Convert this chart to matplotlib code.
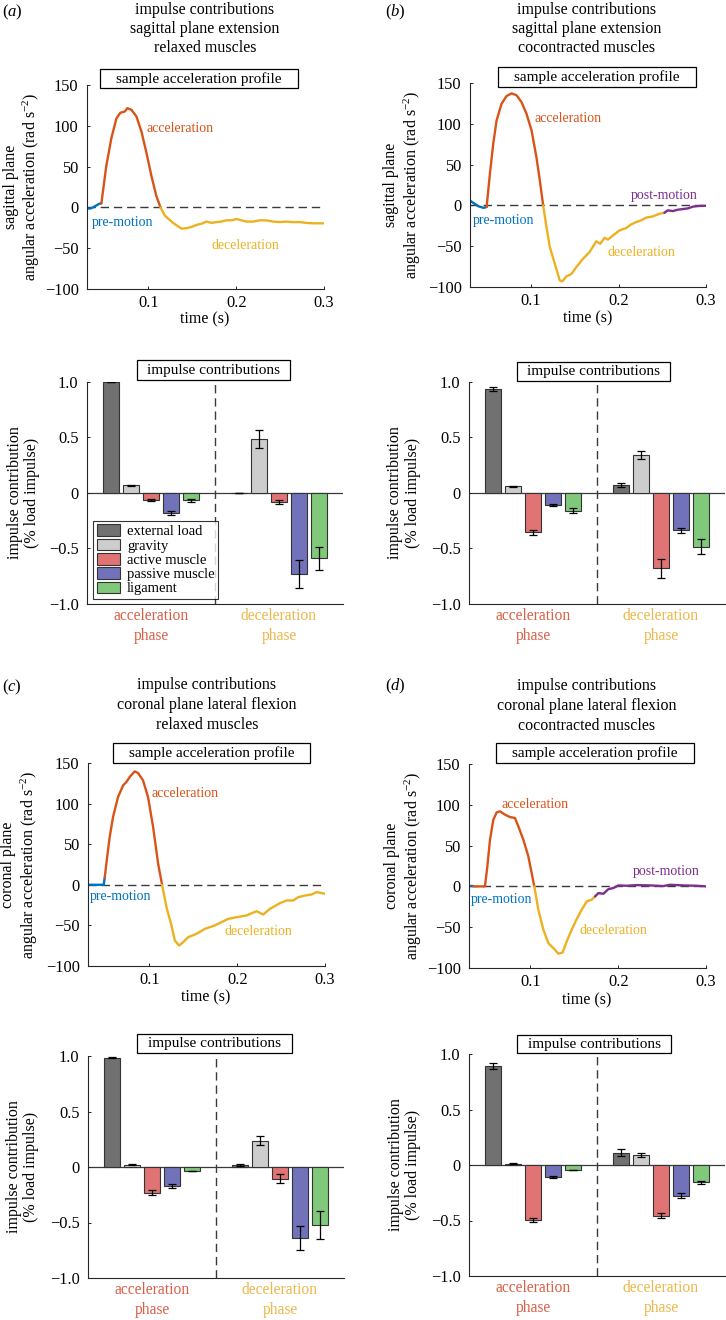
import matplotlib
matplotlib.use('Agg')
import matplotlib.pyplot as plt
from matplotlib.patches import Rectangle, Patch
import numpy as np

plt.rcParams['font.family'] = ['Liberation Serif', 'DejaVu Serif']
plt.rcParams['mathtext.fontset'] = 'custom'
plt.rcParams['mathtext.rm'] = 'Liberation Serif'
plt.rcParams['mathtext.it'] = 'Liberation Serif:italic'
plt.rcParams['axes.unicode_minus'] = True

# ---------------- data ----------------
components = ['external load', 'gravity', 'active muscle', 'passive muscle', 'ligament']
phase_labels = ['acceleration\nphase', 'deceleration\nphase']
x_ticks = [0.1, 0.2, 0.3]
x_ticklabels = ['0.1', '0.2', '0.3']
acc_yticks = [-100, -50, 0, 50, 100, 150]
acc_yticklabels = ['\u2212100', '\u221250', '0', '50', '100', '150']
imp_yticks = [-1.0, -0.5, 0.0, 0.5, 1.0]
imp_yticklabels = ['\u22121.0', '\u22120.5', '0', '0.5', '1.0']

# panel (a): sagittal, relaxed
a_pre_t = [0.030, 0.033, 0.036, 0.040, 0.044, 0.0464]
a_pre_v = [-1.0, -1.5, -0.5, 2.0, 4.5, 5.0]
a_acc_t = [0.0464, 0.052, 0.0578, 0.0635, 0.068, 0.073, 0.076, 0.0806, 0.0863, 0.092, 0.0977, 0.1034, 0.109, 0.1137]
a_acc_v = [5, 51, 85, 109, 116, 117.5, 121.6, 119.6, 111.5, 93, 67, 38.5, 14, 0]
a_dec_t = [0.1137, 0.1186, 0.1281, 0.1376, 0.1433, 0.149, 0.1547, 0.1604, 0.166, 0.1719, 0.1775, 0.183, 0.189,
           0.1947, 0.2004, 0.206, 0.2118, 0.2194, 0.227, 0.2346, 0.2422, 0.2498, 0.2574, 0.265, 0.2727, 0.280,
           0.2878, 0.299]
a_dec_v = [0, -10, -19, -26, -25.5, -24, -21.5, -20, -17.4, -19, -18, -17.4, -15.8, -15.8, -14.2, -15.8, -17.4,
           -17.4, -15.8, -16, -17.4, -18, -17.4, -18, -18, -19, -19.5, -19.5]

# panel (b): sagittal, cocontracted
b_pre_t = [0.030, 0.0338, 0.0395, 0.0452, 0.049]
b_pre_v = [6, 3, -1, -3, -2]
b_acc_t = [0.049, 0.0528, 0.0566, 0.0604, 0.0661, 0.0718, 0.0775, 0.0832, 0.0889, 0.0946, 0.1004, 0.106, 0.1099, 0.1137]
b_acc_v = [-2, 39, 75.6, 104, 124.6, 134, 137.3, 135, 126.7, 112.4, 92, 59, 30.6, 0]
b_dec_t = [0.1137, 0.1175, 0.1213, 0.127, 0.1327, 0.1357, 0.1403, 0.146, 0.1517, 0.1593, 0.1669, 0.1745, 0.179,
           0.184, 0.1878, 0.1935, 0.2011, 0.2087, 0.2144, 0.2201, 0.2258, 0.2315, 0.2392, 0.2468, 0.2525]
b_dec_v = [0, -26.6, -51, -71.5, -92, -93, -87, -84, -75.6, -65.4, -57, -44, -47, -39.6, -42, -36.8, -30.6, -27.8,
           -23.3, -20.4, -18.4, -15, -13.5, -10.2, -9]
b_post_t = [0.2525, 0.2563, 0.262, 0.2677, 0.2734, 0.2791, 0.2848, 0.2905, 0.300]
b_post_v = [-9, -6, -7, -5.3, -4.5, -3.7, -1.6, -0.8, -0.4]

# panel (c): coronal, relaxed
c_pre_t = [0.030, 0.0479, 0.049]
c_pre_v = [0, 0, 8.6]
c_acc_t = [0.049, 0.0518, 0.0547, 0.0585, 0.0642, 0.070, 0.0737, 0.0775, 0.0832, 0.087, 0.0927, 0.0984, 0.1042,
           0.1099, 0.1144]
c_acc_v = [8.6, 34, 58.8, 83.4, 108, 122.5, 126.6, 132.8, 139.7, 137.7, 128.6, 108, 71, 25.9, 0]
c_dec_t = [0.1144, 0.1194, 0.1251, 0.1289, 0.1338, 0.1384, 0.1441, 0.1536, 0.1631, 0.1745, 0.1821, 0.1897, 0.1992,
           0.2106, 0.222, 0.2296, 0.2373, 0.2487, 0.2563, 0.2639, 0.2696, 0.2772, 0.2848, 0.2905, 0.300]
c_dec_v = [0, -27.5, -50, -68.6, -74.8, -70.7, -64.5, -60.4, -54.3, -50, -46, -42, -39.9, -37.8, -32.5, -36.6,
           -29.6, -22.6, -19.3, -19.3, -15.2, -13.2, -11.9, -9, -11]

# panel (d): coronal, cocontracted
d_pre_t = [0.030, 0.0349]
d_pre_v = [0, 0]
d_acc_t = [0.0349, 0.0482, 0.0509, 0.0539, 0.0577, 0.0615, 0.0653, 0.071, 0.0767, 0.0824, 0.0862, 0.0919, 0.0976,
           0.1014, 0.1044]
d_acc_v = [0, 0, 24.5, 57, 81.7, 90.7, 92, 87.9, 85, 83.8, 73.6, 57.2, 36.8, 16.3, 0]
d_dec_t = [0.1044, 0.109, 0.1147, 0.1204, 0.1261, 0.1318, 0.1367, 0.1413, 0.147, 0.1527, 0.1584, 0.1641, 0.1698,
           0.1736]
d_dec_v = [0, -28.6, -53, -69.5, -75.6, -82.5, -81, -67.4, -53, -40, -28.6, -18.4, -16.3, -12.3]
d_post_t = [0.1736, 0.1774, 0.1831, 0.1888, 0.1945, 0.2002, 0.2097, 0.221, 0.2362, 0.2514, 0.259, 0.2742, 0.2894, 0.300]
d_post_v = [-12.3, -8.2, -9, -3.3, -2, 1.2, 0.8, 1.6, 1.2, 0.4, 2, 1.2, 0.8, 0]

# impulse contributions (mean, error) per phase
a_acc_mean = [1.000, 0.069, -0.060, -0.180, -0.066]
a_acc_err = [0.003, 0.005, 0.008, 0.022, 0.016]
a_dec_mean = [0.003, 0.486, -0.081, -0.732, -0.590]
a_dec_err = [0.000, 0.078, 0.015, 0.128, 0.100]
b_acc_mean = [0.936, 0.060, -0.354, -0.111, -0.159]
b_acc_err = [0.015, 0.003, 0.022, 0.009, 0.025]
b_dec_mean = [0.069, 0.342, -0.678, -0.336, -0.483]
b_dec_err = [0.018, 0.036, 0.084, 0.025, 0.069]
c_acc_mean = [0.986, 0.021, -0.232, -0.171, -0.036]
c_acc_err = [0.005, 0.002, 0.024, 0.021, 0.003]
c_dec_mean = [0.021, 0.238, -0.105, -0.640, -0.520]
c_dec_err = [0.009, 0.042, 0.038, 0.108, 0.126]
d_acc_mean = [0.892, 0.012, -0.495, -0.108, -0.045]
d_acc_err = [0.030, 0.002, 0.022, 0.006, 0.003]
d_dec_mean = [0.111, 0.093, -0.456, -0.276, -0.156]
d_dec_err = [0.030, 0.018, 0.022, 0.020, 0.015]

# ---------------- style ----------------
C_PRE, C_ACC, C_DEC, C_POST = '#0072BD', '#D95319', '#EDB120', '#7E2F8E'
comp_colors = ['#717171', '#CDCDCD', '#E07474', '#7272BA', '#80C97A']
PHASE_COLORS = ['#DA5F48', '#EDB74A']
AX_COLOR = '#262626'

W, H = 726, 1320
fig = plt.figure(figsize=(W / 100, H / 100), dpi=100)


def px_axes(l, t, r, b):
    return fig.add_axes([l / W, 1 - b / H, (r - l) / W, (b - t) / H])


def ftext(x, y, s, **kw):
    return fig.text(x / W, 1 - y / H, s, **kw)


def fbox(l, t, r, b, s, fs=11.0):
    fig.patches.append(Rectangle((l / W, 1 - b / H), (r - l) / W, (b - t) / H, transform=fig.transFigure,
                                 fc='white', ec='black', lw=0.9, zorder=5))
    ftext((l + r) / 2, (t + b) / 2 + 0.5, s, ha='center', va='center', fontsize=fs, zorder=6)


def style(ax):
    for s in ['top', 'right']:
        ax.spines[s].set_visible(False)
    for s in ['left', 'bottom']:
        ax.spines[s].set_color(AX_COLOR)
        ax.spines[s].set_linewidth(0.8)
    ax.tick_params(direction='in', length=2.5, width=0.7, colors=AX_COLOR, labelcolor='black', labelsize=11.8)
    ax.patch.set_alpha(0)


def accel_panel(rect, segs, notes):
    ax = px_axes(*rect)
    style(ax)
    ax.set_xlim(0.03, 0.3)
    ax.set_ylim(-100, 150)
    ax.set_xticks(x_ticks)
    ax.set_xticklabels(x_ticklabels)
    ax.set_yticks(acc_yticks)
    ax.set_yticklabels(acc_yticklabels)
    ax.tick_params(axis='y', pad=6)
    ax.tick_params(axis='x', pad=4)
    ax.plot([0.03, 0.3], [0, 0], color='#3a3a3a', lw=1.0, ls=(0, (6, 3.5)), zorder=1)
    for t, v, c in segs:
        ax.plot(t, v, color=c, lw=1.7, solid_capstyle='round', solid_joinstyle='round', zorder=2)
    for (x, y, s, c) in notes:
        ax.text(x, y, s, color=c, fontsize=10, ha='left', va='center')
    return ax


def impulse_panel(rect, acc, accerr, dec, decerr, legend=False):
    ax = px_axes(*rect)
    style(ax)
    ax.set_xlim(0.5, 2.5)
    ax.set_ylim(-1.0, 1.0)
    ax.set_yticks(imp_yticks)
    ax.set_yticklabels(imp_yticklabels)
    ax.tick_params(axis='y', pad=6)
    ax.set_xticks([])
    ax.axhline(0, color='#3a3a3a', lw=0.9, zorder=1)
    ax.axvline(1.5, color='#3a3a3a', lw=1.0, ls=(0, (6, 3.5)), zorder=1)
    offs = np.arange(-2, 3) * 0.156
    for g, (m, e) in enumerate([(acc, accerr), (dec, decerr)]):
        x = g + 1 + offs
        ax.bar(x, m, width=0.125, color=comp_colors, edgecolor='#333333', lw=0.8, zorder=2)
        ax.errorbar(x, m, yerr=e, fmt='none', ecolor='black', elinewidth=0.9, capsize=2.6, capthick=0.9, zorder=3)
        ax.annotate(phase_labels[g], xy=(g + 1, 0), xycoords=('data', 'axes fraction'), xytext=(0, -3),
                    textcoords='offset points', ha='center', va='top', fontsize=11.2, color=PHASE_COLORS[g],
                    linespacing=1.3, annotation_clip=False)
    if legend:
        handles = [Patch(facecolor=c, edgecolor='#333333', lw=0.8) for c in comp_colors]
        leg = ax.legend(handles, components, loc='lower left', bbox_to_anchor=(0.023, 0.022), borderaxespad=0,
                        fontsize=10.5, frameon=True, fancybox=False, handlelength=1.6, handleheight=0.85,
                        handletextpad=0.5, labelspacing=0.03, borderpad=0.25)
        leg.get_frame().set_edgecolor('black')
        leg.get_frame().set_linewidth(0.8)
        leg.set_zorder(4)
    return ax


# ---- panel (a)
for i, s in enumerate(['impulse contributions', 'sagittal plane extension', 'relaxed muscles']):
    ftext(205, 9.5 + 19.5 * i, s, ha='center', va='center', fontsize=11.5)
ftext(2, 12, '($\\mathit{a}$)', ha='left', va='center', fontsize=12)
accel_panel((87, 85, 324, 289),
            [(a_pre_t, a_pre_v, C_PRE), (a_acc_t, a_acc_v, C_ACC), (a_dec_t, a_dec_v, C_DEC)],
            [(0.0977, 97, 'acceleration', C_ACC), (0.035, -18, 'pre-motion', C_PRE),
             (0.172, -47, 'deceleration', C_DEC)])
fbox(100, 69, 298, 88, 'sample acceleration profile')
ftext(22.5, 187, 'sagittal plane\nangular acceleration (rad s$^{-2}$)', rotation=90, ha='center', va='center',
      fontsize=11.5, linespacing=1.15)
ftext(205, 319, 'time (s)', ha='center', va='center', fontsize=11.5)
impulse_panel((87, 382, 343, 604), a_acc_mean, a_acc_err, a_dec_mean, a_dec_err, legend=True)
fbox(137, 360, 290, 380, 'impulse contributions')
ftext(23.5, 493, 'impulse contribution\n(% load impulse)', rotation=90, ha='center', va='center',
      fontsize=11.5, linespacing=1.15)

# ---- panel (b)
for i, s in enumerate(['impulse contributions', 'sagittal plane extension', 'cocontracted muscles']):
    ftext(587, 9.5 + 19.5 * i, s, ha='center', va='center', fontsize=11.5)
ftext(385, 12, '($\\mathit{b}$)', ha='left', va='center', fontsize=12)
accel_panel((470, 83, 706, 287),
            [(b_pre_t, b_pre_v, C_PRE), (b_acc_t, b_acc_v, C_ACC), (b_dec_t, b_dec_v, C_DEC),
             (b_post_t, b_post_v, C_POST)],
            [(0.1034, 106, 'acceleration', C_ACC), (0.033, -18, 'pre-motion', C_PRE),
             (0.1878, -58, 'deceleration', C_DEC), (0.2137, 12, 'post-motion', C_POST)])
fbox(498, 67, 696, 87, 'sample acceleration profile')
ftext(403, 185, 'sagittal plane\nangular acceleration (rad s$^{-2}$)', rotation=90, ha='center', va='center',
      fontsize=11.5, linespacing=1.15)
ftext(588, 318, 'time (s)', ha='center', va='center', fontsize=11.5)
impulse_panel((469, 382, 725, 604), b_acc_mean, b_acc_err, b_dec_mean, b_dec_err)
fbox(517, 362, 670, 381, 'impulse contributions')
ftext(404, 493, 'impulse contribution\n(% load impulse)', rotation=90, ha='center', va='center',
      fontsize=11.5, linespacing=1.15)

# ---- panel (c)
for i, s in enumerate(['impulse contributions', 'coronal plane lateral flexion', 'relaxed muscles']):
    ftext(207, 685 + 20 * i, s, ha='center', va='center', fontsize=11.5)
ftext(2, 687, '($\\mathit{c}$)', ha='left', va='center', fontsize=12)
accel_panel((88, 763, 325, 966),
            [(c_pre_t, c_pre_v, C_PRE), (c_acc_t, c_acc_v, C_ACC), (c_dec_t, c_dec_v, C_DEC)],
            [(0.1027, 113, 'acceleration', C_ACC), (0.032, -15, 'pre-motion', C_PRE),
             (0.185, -57, 'deceleration', C_DEC)])
fbox(113, 743, 310, 763, 'sample acceleration profile')
ftext(20, 865, 'coronal plane\nangular acceleration (rad s$^{-2}$)', rotation=90, ha='center', va='center',
      fontsize=11.5, linespacing=1.15)
ftext(206, 997, 'time (s)', ha='center', va='center', fontsize=11.5)
impulse_panel((88, 1056, 344, 1278), c_acc_mean, c_acc_err, c_dec_mean, c_dec_err)
fbox(137, 1034, 292, 1053, 'impulse contributions')
ftext(22.5, 1167, 'impulse contribution\n(% load impulse)', rotation=90, ha='center', va='center',
      fontsize=11.5, linespacing=1.15)

# ---- panel (d)
for i, s in enumerate(['impulse contributions', 'coronal plane lateral flexion', 'cocontracted muscles']):
    ftext(587, 686 + 20 * i, s, ha='center', va='center', fontsize=11.5)
ftext(385, 686, '($\\mathit{d}$)', ha='left', va='center', fontsize=12)
accel_panel((469, 764, 706, 968),
            [(d_pre_t, d_pre_v, C_PRE), (d_acc_t, d_acc_v, C_ACC), (d_dec_t, d_dec_v, C_DEC),
             (d_post_t, d_post_v, C_POST)],
            [(0.0673, 100, 'acceleration', C_ACC), (0.032, -16, 'pre-motion', C_PRE),
             (0.1557, -54, 'deceleration', C_DEC), (0.2166, 18, 'post-motion', C_POST)])
fbox(496, 743, 694, 763, 'sample acceleration profile')
ftext(404, 866, 'coronal plane\nangular acceleration (rad s$^{-2}$)', rotation=90, ha='center', va='center',
      fontsize=11.5, linespacing=1.15)
ftext(587, 1000, 'time (s)', ha='center', va='center', fontsize=11.5)
impulse_panel((469, 1054, 725, 1276), d_acc_mean, d_acc_err, d_dec_mean, d_dec_err)
fbox(517, 1035, 671, 1053, 'impulse contributions')
ftext(404.5, 1165, 'impulse contribution\n(% load impulse)', rotation=90, ha='center', va='center',
      fontsize=11.5, linespacing=1.15)

fig.savefig('out.png', dpi=100, facecolor='white')
